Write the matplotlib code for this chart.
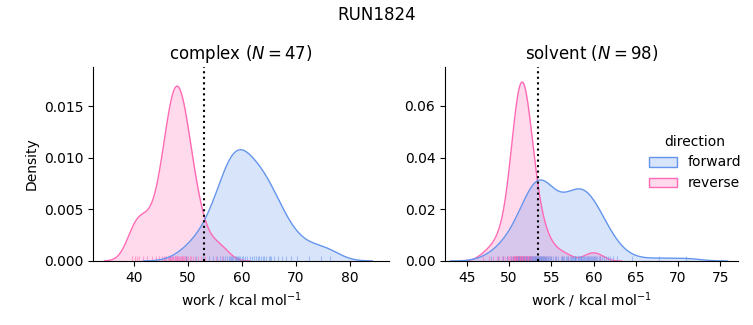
import numpy as np
import matplotlib
matplotlib.use("Agg")
import matplotlib.pyplot as plt
from matplotlib.patches import Patch
from matplotlib.colors import to_rgba

complex_forward = [49.6, 51.5, 52.8, 53.8,
                   54.6, 55.3, 55.9, 56.4, 56.8,
                   57.2, 57.5, 57.8, 58.0, 58.2, 58.4, 58.6, 58.8, 59.0, 59.2, 59.4, 59.6,
                   59.9, 60.2,
                   60.6, 61.0, 61.4, 61.8, 62.2, 62.6, 62.9, 63.2, 63.5, 63.8, 64.1, 64.5, 64.9,
                   65.2, 65.4, 66.0, 66.6, 67.3, 68.1, 69.0, 70.1,
                   72.3, 74.6, 76.2]
complex_reverse = [39.6, 40.1, 40.6, 41.0, 41.6, 42.4,
                   43.3, 44.0, 44.6, 45.1, 45.5,
                   45.8, 46.0, 46.2, 46.4, 46.6, 46.7, 46.9, 47.0, 47.2, 47.3,
                   47.5, 47.6, 47.8, 47.9, 48.0, 48.2, 48.3, 48.5, 48.6, 48.8,
                   48.9, 49.1, 49.2, 49.4, 49.6, 49.8, 50.0, 50.3, 50.6, 50.9,
                   51.3, 51.8, 52.4, 53.1,
                   55.2, 56.3]

solvent_forward = [47.9, 48.7, 49.3, 49.8, 50.2, 50.5, 50.8, 51.0, 51.2, 51.4, 51.6, 51.8,
                   52.0, 52.15, 52.3, 52.45,
                   52.58, 52.68, 52.77, 52.86, 52.94, 53.02, 53.09, 53.16, 53.23, 53.30,
                   53.37, 53.44, 53.51, 53.58, 53.65, 53.72, 53.79, 53.87, 53.95, 54.03,
                   54.11, 54.2, 54.29, 54.38, 54.48, 54.58, 54.68, 54.79,
                   54.95, 55.15, 55.37, 55.6, 55.84, 56.08, 56.2, 56.32, 56.55, 56.77,
                   56.9, 56.97, 57.15, 57.3, 57.43, 57.54, 57.64, 57.74,
                   57.83, 57.92, 58.1, 58.19, 58.28, 58.37, 58.46, 58.55, 58.64,
                   58.73, 58.82, 59.0, 59.1, 59.2, 59.3, 59.41, 59.52, 59.64,
                   59.76, 59.89, 60.02, 60.16, 60.3, 60.45, 60.6,
                   60.78, 60.98, 61.2, 61.45, 61.72, 62.0, 62.35, 62.8,
                   64.6, 67.8, 71.0]
solvent_reverse = [46.9, 47.6, 48.1, 48.5, 48.8, 49.1, 49.3, 49.5,
                   49.7, 49.85, 50.0, 50.1, 50.2, 50.3, 50.4, 50.45,
                   50.52, 50.55, 50.61, 50.64, 50.68, 50.71, 50.77, 50.80, 50.83, 50.88,
                   50.91, 50.95, 50.98, 51.02, 51.05, 51.08, 51.11, 51.15, 51.18, 51.21,
                   51.24, 51.27, 51.30, 51.33, 51.36, 51.38, 51.41, 51.44, 51.47, 51.50,
                   51.53, 51.56, 51.59, 51.62, 51.66, 51.69, 51.72, 51.76, 51.79, 51.83,
                   51.86, 51.90, 51.94, 51.97, 52.01, 52.05, 52.09, 52.12, 52.16, 52.20,
                   52.23, 52.27, 52.30, 52.33, 52.37, 52.41,
                   52.46, 52.5, 52.56, 52.62, 52.68, 52.75, 52.83, 52.92, 53.0, 53.1, 53.2,
                   53.3, 53.45, 53.6, 53.75, 53.9, 54.1, 54.35, 54.6, 55.0, 55.5, 56.2, 57.0,
                   59.3, 60.0, 60.7]

# area under each curve as it appears in the picture
complex_scale = {"forward": 0.157, "reverse": 0.143}
solvent_scale = {"forward": 0.345, "reverse": 0.275}

# dotted reference line
complex_dg = 53.0
solvent_dg = 53.4

colors = {"forward": "cornflowerblue", "reverse": "hotpink"}


def kde(values, n_grid=200, cut=3):
    v = np.asarray(values, dtype=float)
    bw = v.std(ddof=1) * len(v) ** (-1 / 5)
    grid = np.linspace(v.min() - cut * bw, v.max() + cut * bw, n_grid)
    z = (grid[:, None] - v[None, :]) / bw
    dens = np.exp(-0.5 * z ** 2).sum(axis=1) / (len(v) * bw * np.sqrt(2 * np.pi))
    return grid, dens


def panel(ax, data, scale, dg):
    for direction in ["reverse", "forward"]:
        x, d = kde(data[direction])
        d = d * scale[direction]
        c = colors[direction]
        ax.fill_between(x, 0, d, color=c, alpha=0.25, lw=0)
        ax.plot(x, d, color=c, lw=1)
        # rug
        ax.vlines(data[direction], 0, 0.025, color=c, lw=0.8, alpha=0.5,
                  transform=ax.get_xaxis_transform())
    ax.axvline(dg, color="k", ls=":", lw=1.5)
    ax.spines["top"].set_visible(False)
    ax.spines["right"].set_visible(False)
    ax.set_xlabel("work / kcal mol$^{-1}$")


fig = plt.figure(figsize=(7.53, 3.25), dpi=100)
ax1 = fig.add_axes([0.1235, 0.197, 0.3931, 0.597])
ax2 = fig.add_axes([0.591, 0.197, 0.389, 0.597])

panel(ax1, {"forward": complex_forward, "reverse": complex_reverse}, complex_scale, complex_dg)
panel(ax2, {"forward": solvent_forward, "reverse": solvent_reverse}, solvent_scale, solvent_dg)

ax1.set_xlim(32.4, 87.2)
ax1.set_ylim(0, 0.0188)
ax1.set_xticks([40, 50, 60, 70, 80])
ax1.set_yticks([0, 0.005, 0.010, 0.015])
ax1.set_ylabel("Density")
ax1.set_title(f"complex ($N={len(complex_forward)}$)")

ax2.set_xlim(42.4, 77.1)
ax2.set_ylim(0, 0.0751)
ax2.set_xticks([45, 50, 55, 60, 65, 70, 75])
ax2.set_yticks([0, 0.02, 0.04, 0.06])
ax2.set_title(f"solvent ($N={len(solvent_forward)}$)")

handles = [Patch(facecolor=to_rgba(colors[k], 0.25), edgecolor=colors[k])
           for k in ["forward", "reverse"]]
fig.legend(handles, ["forward", "reverse"], title="direction", frameon=False,
           loc="center left", bbox_to_anchor=(0.845, 0.50))

fig.suptitle("RUN1824", y=0.98)
fig.savefig("out.png", dpi=100)
